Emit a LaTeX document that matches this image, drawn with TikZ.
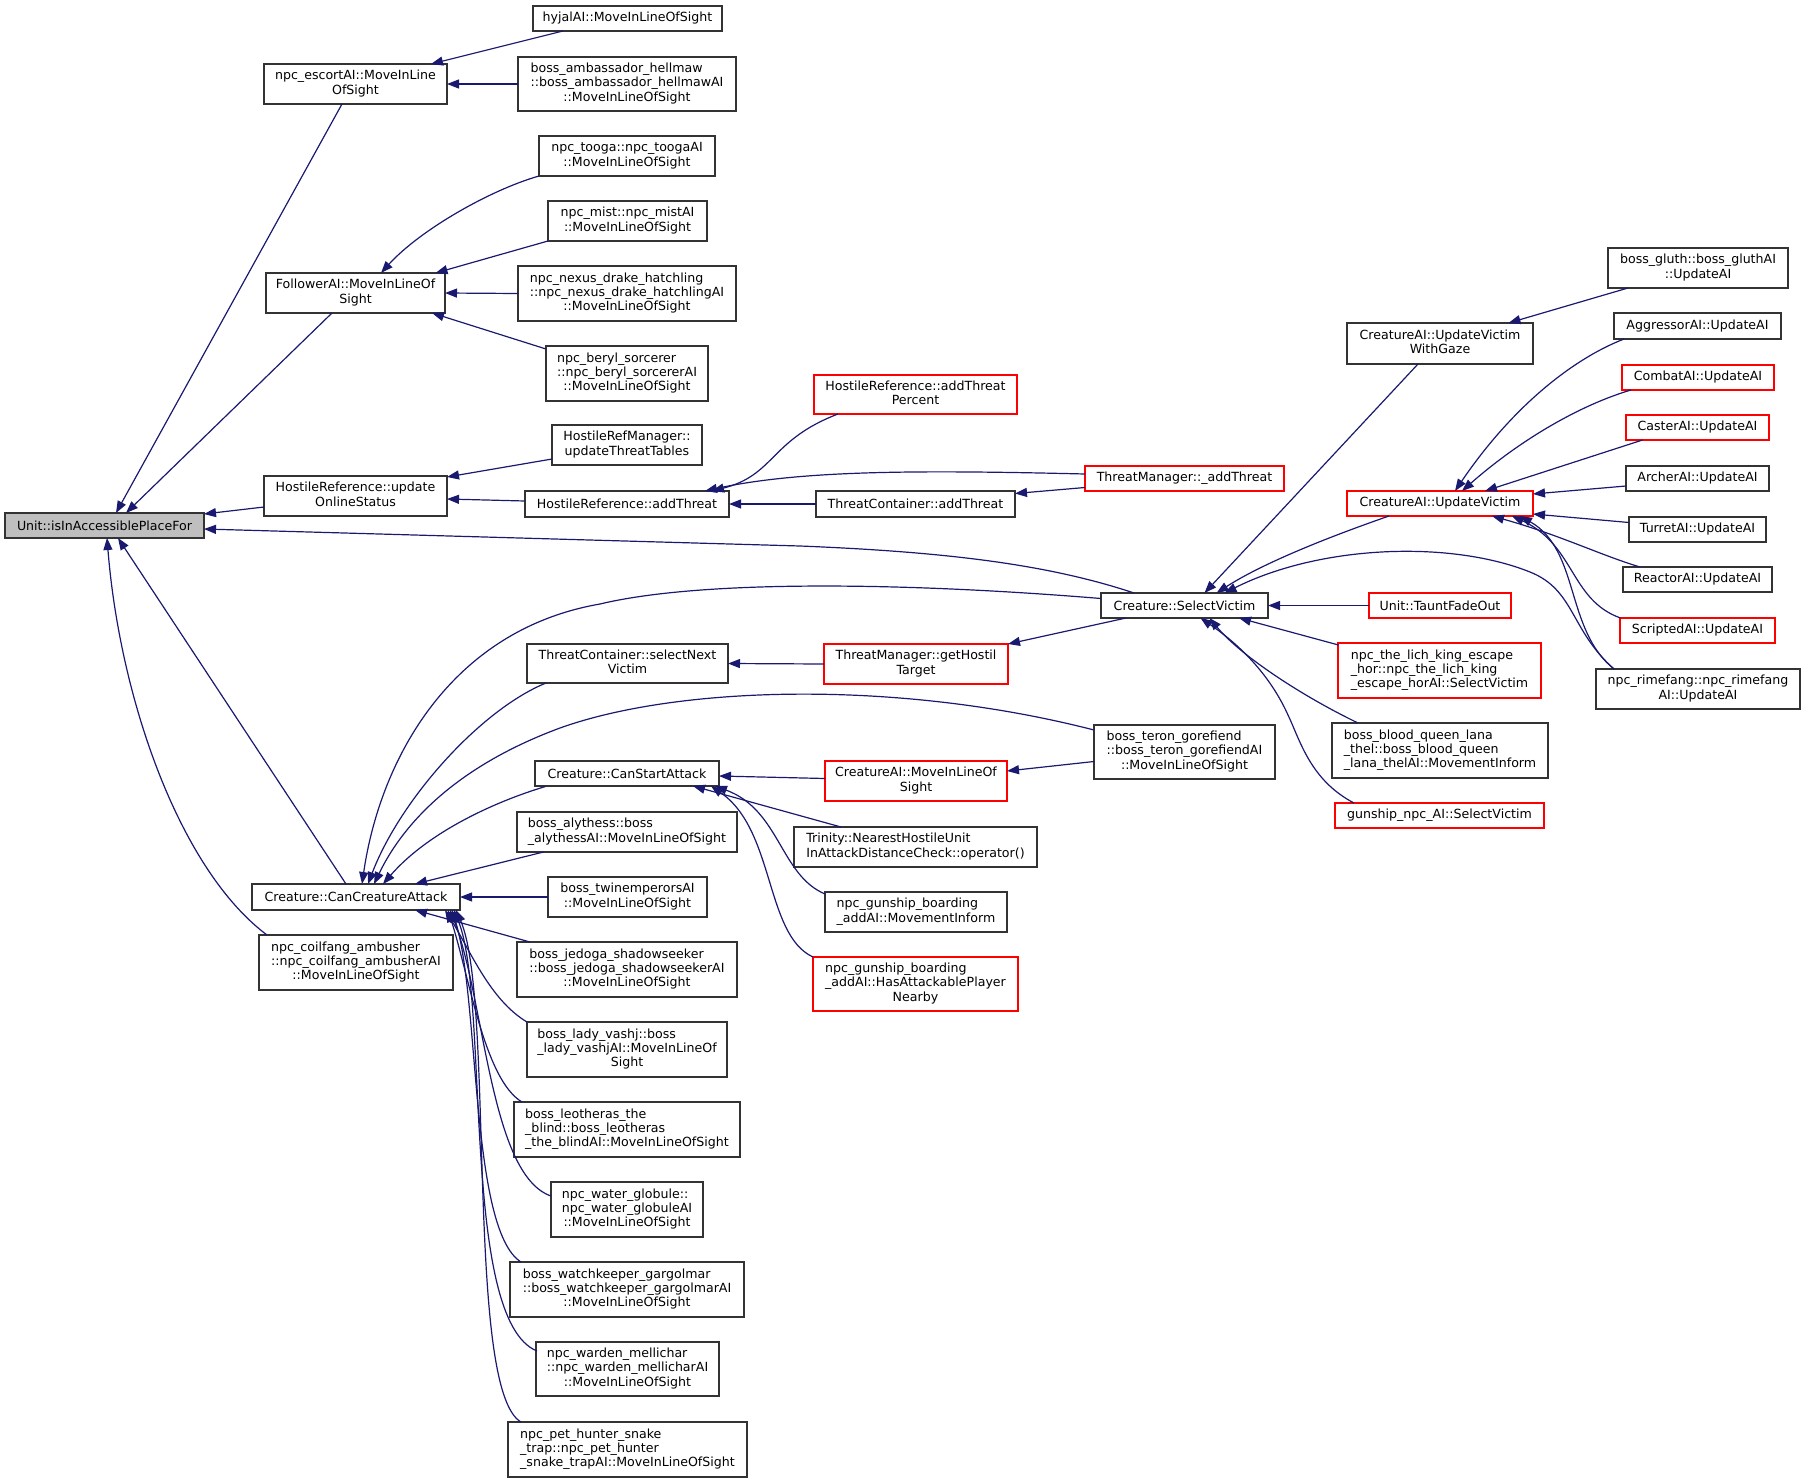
\documentclass[tikz,border=0pt]{standalone}
\usepackage{fontspec}
\setmainfont{DejaVu Sans}
\usetikzlibrary{arrows.meta}
\definecolor{edgec}{HTML}{191970}
\definecolor{rootfill}{HTML}{BFBFBF}
\definecolor{boxline}{HTML}{333333}
\newcommand\ndfont{\fontsize{6.3}{7.15}\selectfont}
\newcommand\ltwo[2]{\begin{tabular}{@{}l@{}}#1\\\multicolumn{1}{@{}c@{}}{#2}\end{tabular}}
\newcommand\lthree[3]{\begin{tabular}{@{}l@{}}#1\\#2\\\multicolumn{1}{@{}c@{}}{#3}\end{tabular}}
\newcommand\nd[7]{%
  \pgfmathsetmacro\ndw{(#4-#2)*0.5}%
  \pgfmathsetmacro\ndh{(#5-#3)*0.5}%
  \node[#6, minimum width=\ndw pt, minimum height=\ndh pt] (#1) at ({(#2+#4)/2},{(#3+#5)/2}) {#7};}
\tikzset{
  base/.style={draw=boxline, line width=0.6pt, fill=white, inner sep=0pt, outer sep=0pt, font=\ndfont, text=black},
  blk/.style={base},
  redn/.style={base, draw=red},
  rootn/.style={base, fill=rootfill},
  arr/.style={draw=edgec, line width=0.6pt, -{Triangle[length=6pt,width=4.5pt]}}
}
\begin{document}
\begin{tikzpicture}[x=0.5pt,y=-0.5pt]
\useasboundingbox (0,0) rectangle (1805,1483);
% nodes
\nd{unit}{5}{513}{204}{538}{rootn}{Unit::isInAccessiblePlaceFor}
\nd{esc}{264}{64}{447}{104}{blk}{\ltwo{npc\_escortAI::MoveInLine}{OfSight}}
\nd{hyjal}{533}{6}{722}{31}{blk}{hyjalAI::MoveInLineOfSight}
\nd{amb}{518}{57}{736}{111}{blk}{\lthree{boss\_ambassador\_hellmaw}{::boss\_ambassador\_hellmawAI}{::MoveInLineOfSight}}
\nd{tooga}{539}{136}{715}{176}{blk}{\ltwo{npc\_tooga::npc\_toogaAI}{::MoveInLineOfSight}}
\nd{mist}{548}{201}{707}{241}{blk}{\ltwo{npc\_mist::npc\_mistAI}{::MoveInLineOfSight}}
\nd{fol}{266}{273}{445}{313}{blk}{\ltwo{FollowerAI::MoveInLineOf}{Sight}}
\nd{nexus}{518}{266}{736}{321}{blk}{\lthree{npc\_nexus\_drake\_hatchling}{::npc\_nexus\_drake\_hatchlingAI}{::MoveInLineOfSight}}
\nd{beryl}{546}{346}{708}{401}{blk}{\lthree{npc\_beryl\_sorcerer}{::npc\_beryl\_sorcererAI}{::MoveInLineOfSight}}
\nd{hrm}{552}{425}{702}{465}{blk}{\ltwo{HostileRefManager::}{updateThreatTables}}
\nd{hru}{264}{476}{447}{516}{blk}{\ltwo{HostileReference::update}{OnlineStatus}}
\nd{hra}{525}{491}{729}{517}{blk}{HostileReference::addThreat}
\nd{hrap}{814}{375}{1017}{414}{redn}{\ltwo{HostileReference::addThreat}{Percent}}
\nd{tmat}{1085}{466}{1284}{491}{redn}{ThreatManager::\_addThreat}
\nd{tca}{816}{491}{1015}{517}{blk}{ThreatContainer::addThreat}
\nd{sv}{1101}{593}{1268}{618}{blk}{Creature::SelectVictim}
\nd{tcsn}{527}{644}{728}{683}{blk}{\ltwo{ThreatContainer::selectNext}{Victim}}
\nd{tmgh}{824}{644}{1008}{684}{redn}{\ltwo{ThreatManager::getHostil}{Target}}
\nd{teron}{1094}{725}{1275}{779}{blk}{\lthree{boss\_teron\_gorefiend}{::boss\_teron\_gorefiendAI}{::MoveInLineOfSight}}
\nd{gluth}{1608}{248}{1788}{288}{blk}{\ltwo{boss\_gluth::boss\_gluthAI}{::UpdateAI}}
\nd{uvg}{1347}{323}{1533}{364}{blk}{\ltwo{CreatureAI::UpdateVictim}{WithGaze}}
\nd{aggr}{1614}{313}{1781}{339}{blk}{AggressorAI::UpdateAI}
\nd{combat}{1622}{365}{1774}{390}{redn}{CombatAI::UpdateAI}
\nd{caster}{1626}{415}{1769}{440}{redn}{CasterAI::UpdateAI}
\nd{archer}{1626}{466}{1769}{491}{blk}{ArcherAI::UpdateAI}
\nd{uv}{1347}{491}{1533}{516}{redn}{CreatureAI::UpdateVictim}
\nd{turret}{1629}{517}{1766}{542}{blk}{TurretAI::UpdateAI}
\nd{reactor}{1623}{567}{1772}{592}{blk}{ReactorAI::UpdateAI}
\nd{taunt}{1369}{593}{1511}{618}{redn}{Unit::TauntFadeOut}
\nd{scripted}{1620}{618}{1775}{643}{redn}{ScriptedAI::UpdateAI}
\nd{lich}{1338}{643}{1541}{698}{redn}{\lthree{npc\_the\_lich\_king\_escape}{\_hor::npc\_the\_lich\_king}{\_escape\_horAI::SelectVictim}}
\nd{rime}{1596}{669}{1800}{709}{blk}{\ltwo{npc\_rimefang::npc\_rimefang}{AI::UpdateAI}}
\nd{blood}{1332}{723}{1548}{778}{blk}{\lthree{boss\_blood\_queen\_lana}{\_thel::boss\_blood\_queen}{\_lana\_thelAI::MovementInform}}
\nd{gunnpc}{1335}{803}{1544}{828}{redn}{gunship\_npc\_AI::SelectVictim}
\nd{csa}{535}{761}{719}{786}{blk}{Creature::CanStartAttack}
\nd{aly}{517}{812}{737}{852}{blk}{\ltwo{boss\_alythess::boss}{\_alythessAI::MoveInLineOfSight}}
\nd{cca}{252}{884}{460}{910}{blk}{Creature::CanCreatureAttack}
\nd{twin}{548}{877}{707}{917}{blk}{\ltwo{boss\_twinemperorsAI}{::MoveInLineOfSight}}
\nd{coil}{259}{935}{453}{990}{blk}{\lthree{npc\_coilfang\_ambusher}{::npc\_coilfang\_ambusherAI}{::MoveInLineOfSight}}
\nd{jed}{517}{942}{737}{997}{blk}{\lthree{boss\_jedoga\_shadowseeker}{::boss\_jedoga\_shadowseekerAI}{::MoveInLineOfSight}}
\nd{vashj}{527}{1022}{727}{1077}{blk}{\lthree{boss\_lady\_vashj::boss}{\_lady\_vashjAI::MoveInLineOf}{Sight}}
\nd{cmls}{825}{761}{1007}{801}{redn}{\ltwo{CreatureAI::MoveInLineOf}{Sight}}
\nd{trin}{794}{827}{1037}{867}{blk}{\ltwo{Trinity::NearestHostileUnit}{InAttackDistanceCheck::operator()}}
\nd{gbm}{825}{892}{1007}{932}{blk}{\ltwo{npc\_gunship\_boarding}{\_addAI::MovementInform}}
\nd{gbh}{813}{957}{1018}{1011}{redn}{\lthree{npc\_gunship\_boarding}{\_addAI::HasAttackablePlayer}{Nearby}}
\nd{leo}{514}{1102}{740}{1157}{blk}{\lthree{boss\_leotheras\_the}{\_blind::boss\_leotheras}{\_the\_blindAI::MoveInLineOfSight}}
\nd{water}{551}{1182}{703}{1237}{blk}{\lthree{npc\_water\_globule::}{npc\_water\_globuleAI}{::MoveInLineOfSight}}
\nd{watch}{510}{1262}{744}{1317}{blk}{\lthree{boss\_watchkeeper\_gargolmar}{::boss\_watchkeeper\_gargolmarAI}{::MoveInLineOfSight}}
\nd{warden}{536}{1342}{719}{1396}{blk}{\lthree{npc\_warden\_mellichar}{::npc\_warden\_mellicharAI}{::MoveInLineOfSight}}
\nd{pet}{508}{1422}{747}{1477}{blk}{\lthree{npc\_pet\_hunter\_snake}{\_trap::npc\_pet\_hunter}{\_snake\_trapAI::MoveInLineOfSight}}
% edges into Unit
\draw[arr] ([shift={(-13.5,20)}]esc.center) -- ([shift={(11.5,-12.5)}]unit.center);
\draw[arr] ([shift={(-23.5,20)}]fol.center) -- ([shift={(21.5,-12.5)}]unit.center);
\draw[arr] ([shift={(-91.5,11)}]hru.center) -- ([shift={(99.5,-11.5)}]unit.center);
\draw[arr] ([shift={(-50.5,-12.5)}]sv.center) .. controls (1050,565) and (950,552) .. (800,546) -- ([shift={(99.5,3.5)}]unit.center);
\draw[arr] ([shift={(-10,-13)}]cca.center) -- ([shift={(13.5,12.5)}]unit.center);
\draw[arr] ([shift={(-89,-27.5)}]coil.center) .. controls (180,870) and (120,700) .. ([shift={(2.5,12.5)}]unit.center);
% escort
\draw[arr] ([shift={(-64.5,12.5)}]hyjal.center) -- ([shift={(75.5,-20)}]esc.center);
\draw[arr] (amb.west) -- (esc.east);
% follower
\draw[arr] (tooga.south west) .. controls (490,190) and (420,230) .. ([shift={(25.5,-20)}]fol.center);
\draw[arr] (mist.south west) -- ([shift={(80,-20)}]fol.center);
\draw[arr] (nexus.west) -- (fol.east);
\draw[arr] ([shift={(-81,-24.5)}]beryl.center) -- ([shift={(76.5,20)}]fol.center);
% hostile reference
\draw[arr] ([shift={(-75,14)}]hrm.center) -- ([shift={(91.5,-19)}]hru.center);
\draw[arr] ([shift={(-102,-3)}]hra.center) -- ([shift={(91.5,3)}]hru.center);
\draw[arr] ([shift={(-77.5,19.5)}]hrap.center) .. controls (770,440) and (775,475) .. ([shift={(85,-13)}]hra.center);
\draw[arr] ([shift={(-99.5,-4.5)}]tmat.center) .. controls (920,470) and (800,470) .. ([shift={(78,-13)}]hra.center);
\draw[arr] (tca.west) -- (hra.east);
\draw[arr] ([shift={(-99.5,9)}]tmat.center) -- ([shift={(99.5,-10.5)}]tca.center);
% select victim
\draw[arr] ([shift={(-22,20.5)}]uvg.center) -- ([shift={(20,-12.5)}]sv.center);
\draw[arr] ([shift={(-51,12.5)}]uv.center) .. controls (1320,540) and (1260,565) .. ([shift={(32,-12.5)}]sv.center);
\draw[arr] ([shift={(-84,-20)}]rime.center) .. controls (1570,630) and (1575,590) .. (1530,572) .. controls (1450,540) and (1320,545) .. ([shift={(40,-12.5)}]sv.center);
\draw[arr] (taunt.west) -- (sv.east);
\draw[arr] ([shift={(-101,-25.5)}]lich.center) -- ([shift={(54.5,12.5)}]sv.center);
\draw[arr] ([shift={(-82,-27.5)}]blood.center) .. controls (1300,695) and (1240,655) .. ([shift={(25,12.5)}]sv.center);
\draw[arr] ([shift={(-85.5,-12.5)}]gunnpc.center) .. controls (1310,780) and (1300,740) .. (1288,715) .. controls (1270,675) and (1240,645) .. ([shift={(16,12.5)}]sv.center);
\draw[arr] ([shift={(-58.5,12.5)}]sv.center) -- ([shift={(92,-20)}]tmgh.center);
\draw[arr] (tmgh.west) -- (tcsn.east);
% into CanCreatureAttack
\draw[arr] ([shift={(-83.5,-7)}]sv.center) .. controls (900,582) and (700,580) .. (600,604) .. controls (450,630) and (380,760) .. ([shift={(6,-13)}]cca.center);
\draw[arr] ([shift={(-81.5,19.5)}]tcsn.center) .. controls (480,710) and (400,800) .. ([shift={(12,-13)}]cca.center);
\draw[arr] ([shift={(-90.5,-22)}]teron.center) .. controls (900,680) and (680,685) .. (560,728) .. controls (460,765) and (405,820) .. ([shift={(18,-13)}]cca.center);
\draw[arr] ([shift={(-81.5,13)}]csa.center) .. controls (500,800) and (430,830) .. ([shift={(27,-13)}]cca.center);
\draw[arr] ([shift={(-83.5,20)}]aly.center) -- ([shift={(59,-13)}]cca.center);
\draw[arr] (twin.west) -- (cca.east);
\draw[arr] ([shift={(-97,-27.5)}]jed.center) -- ([shift={(59,13)}]cca.center);
\draw[arr] ([shift={(-100,-27.5)}]vashj.center) .. controls (490,1000) and (470,950) .. ([shift={(89,13)}]cca.center);
\draw[arr] ([shift={(-105,-27.5)}]leo.center) .. controls (485,1080) and (470,980) .. ([shift={(92,13)}]cca.center);
\draw[arr] ([shift={(-76,-13.5)}]water.center) .. controls (490,1175) and (485,1000) .. ([shift={(94,13)}]cca.center);
\draw[arr] ([shift={(-106,-27.5)}]watch.center) .. controls (470,1230) and (480,1000) .. ([shift={(96,13)}]cca.center);
\draw[arr] ([shift={(-90.5,-18)}]warden.center) .. controls (460,1320) and (490,1000) .. ([shift={(98,13)}]cca.center);
\draw[arr] ([shift={(-106.5,-27.5)}]pet.center) .. controls (465,1390) and (495,1000) .. ([shift={(100,13)}]cca.center);
% CanStartAttack
\draw[arr] ([shift={(-91,-2.5)}]cmls.center) -- ([shift={(92,2.5)}]csa.center);
\draw[arr] ([shift={(-90.5,9.5)}]teron.center) -- ([shift={(91,-10)}]cmls.center);
\draw[arr] ([shift={(-74.5,-20)}]trin.center) -- ([shift={(66,12.5)}]csa.center);
\draw[arr] ([shift={(-91,-18)}]gbm.center) .. controls (780,875) and (780,810) .. ([shift={(88,12.5)}]csa.center);
\draw[arr] ([shift={(-102.5,-27)}]gbh.center) .. controls (765,935) and (775,830) .. ([shift={(84,12.5)}]csa.center);
% UpdateVictim
\draw[arr] ([shift={(-70,20)}]gluth.center) -- ([shift={(68.5,-20.5)}]uvg.center);
\draw[arr] ([shift={(-73.5,13)}]aggr.center) .. controls (1570,360) and (1510,410) .. ([shift={(15,-12.5)}]uv.center);
\draw[arr] ([shift={(-67,12.5)}]combat.center) .. controls (1580,405) and (1520,440) .. ([shift={(22,-12.5)}]uv.center);
\draw[arr] ([shift={(-55,12.5)}]caster.center) -- ([shift={(45,-12.5)}]uv.center);
\draw[arr] ([shift={(-71.5,7.5)}]archer.center) -- ([shift={(93,-9.5)}]uv.center);
\draw[arr] ([shift={(-68.5,-7)}]turret.center) -- ([shift={(93,10.5)}]uv.center);
\draw[arr] ([shift={(-57.5,-12.5)}]reactor.center) .. controls (1600,555) and (1560,535) .. ([shift={(52,12.5)}]uv.center);
\draw[arr] ([shift={(-77,-12.5)}]scripted.center) .. controls (1570,600) and (1575,545) .. ([shift={(72,12.5)}]uv.center);
\draw[arr] ([shift={(-84,-20)}]rime.center) .. controls (1565,630) and (1580,550) .. ([shift={(80,12.5)}]uv.center);
\end{tikzpicture}
\end{document}
